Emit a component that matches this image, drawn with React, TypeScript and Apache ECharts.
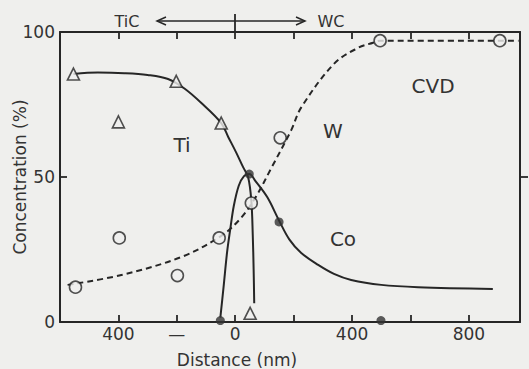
import { useEffect, useRef } from "react";
import * as echarts from "echarts";

// Axis ticks / labels
const xTicks = [-400, -200, 0, 200, 400, 600, 800];
const xTickLabels = ["400", "—", "0", "", "400", "", "800"];
const yTicks = [0, 50, 100];
const yTickLabels = ["0", "50", "100"];

// Ti (triangles) measured points and fitted curve
const tiPoints = [
  [-554, 85.5],
  [-400, 69],
  [-202, 83],
  [-48, 68.6],
  [51, 3],
];
const tiCurve = [
  [-554, 85.5],
  [-470, 86],
  [-380, 85.8],
  [-300, 85.2],
  [-230, 83.8],
  [-174, 80.5],
  [-116, 75.5],
  [-48, 68.6],
  [-24, 63.8],
  [3, 58.5],
  [27, 53.4],
  [44, 50],
  [55, 42],
  [60, 30],
  [63, 18],
  [65, 6.5],
];

// W (open circles) measured points and fitted dashed curve
const wPoints = [
  [-547, 12],
  [-397, 29],
  [-198, 16],
  [-55, 29],
  [55, 41],
  [154, 63.5],
  [496, 97],
  [906, 97],
];
const wCurve = [
  [-574, 12.8],
  [-390, 16.2],
  [-185, 22.4],
  [-48, 29.7],
  [20, 35.9],
  [72, 43.4],
  [123, 53],
  [191, 66],
  [226, 74],
  [338, 89],
  [420, 94.5],
  [472, 96.3],
  [496, 97],
  [970, 97],
];

// Co (filled circles) measured points and fitted curve
const coPoints = [
  [-51, 0.5],
  [48, 51],
  [150, 34.5],
  [499, 0.5],
];
const coCurve = [
  [-51, 1.5],
  [-40, 12],
  [-28, 24],
  [-17, 32],
  [-5, 40],
  [12, 47],
  [30, 50.3],
  [48, 51],
  [70, 48.5],
  [110, 43],
  [150, 35],
  [185, 28.5],
  [226, 23.8],
  [284, 19.7],
  [338, 16.6],
  [397, 14.5],
  [500, 12.8],
  [626, 12],
  [882, 11.4],
];

const BG = "#efefed";
const INK = "#262626";
const FONT = "DejaVu Sans";

export default function App() {
  const ref = useRef<HTMLDivElement>(null);

  useEffect(() => {
    if (!ref.current) return;
    const chart = echarts.init(ref.current, undefined, { renderer: "svg" });
    const labelMap: Record<number, string> = {};
    xTicks.forEach((v, i) => (labelMap[v] = xTickLabels[i]));
    const yLabelMap: Record<number, string> = {};
    yTicks.forEach((v, i) => (yLabelMap[v] = yTickLabels[i]));

    const hollow = (symbol: string, size: number) => ({
      symbol,
      symbolSize: size,
      itemStyle: { color: BG, borderColor: INK, borderWidth: 1.6 },
    });
    const frameLine = { show: true, onZero: false, lineStyle: { color: INK, width: 2 } };
    const tickStyle = { color: INK, width: 1.8 };
    const txt = (text: string, x: number, y: number, size: number) => ({
      type: "text",
      x,
      y,
      style: {
        text,
        fontSize: size,
        fill: "#333",
        fontFamily: FONT,
        align: "center",
        verticalAlign: "middle",
      },
    });

    chart.setOption({
      animation: false,
      backgroundColor: BG,
      textStyle: { fontFamily: FONT },
      grid: { left: 60, right: 9, top: 32, bottom: 47 },
      xAxis: [
        {
          type: "value",
          position: "bottom",
          min: -600,
          max: 975,
          axisLine: frameLine,
          axisTick: { show: true, inside: true, length: 7, customValues: xTicks, lineStyle: tickStyle },
          axisLabel: {
            customValues: xTicks,
            formatter: (v: number) => labelMap[v] ?? "",
            fontSize: 17,
            color: "#333",
            margin: 3,
            fontFamily: FONT,
          },
          splitLine: { show: false },
        },
        {
          type: "value",
          position: "top",
          min: -600,
          max: 975,
          axisLine: frameLine,
          axisTick: { show: true, inside: true, length: 7, customValues: xTicks, lineStyle: tickStyle },
          axisLabel: { show: false },
          splitLine: { show: false },
        },
        {
          type: "value",
          position: "top",
          min: -600,
          max: 975,
          axisLine: { show: false, onZero: false },
          axisTick: { show: true, inside: false, length: 18, customValues: [0], lineStyle: tickStyle },
          axisLabel: { show: false },
          splitLine: { show: false },
        },
      ],
      yAxis: [
        {
          type: "value",
          position: "left",
          min: 0,
          max: 100,
          interval: 50,
          axisLine: frameLine,
          axisTick: { show: true, inside: true, length: 7, customValues: [50], lineStyle: tickStyle },
          axisLabel: {
            formatter: (v: number) => yLabelMap[v] ?? "",
            fontSize: 17,
            color: "#333",
            margin: 5,
            fontFamily: FONT,
          },
          splitLine: { show: false },
        },
        {
          type: "value",
          position: "right",
          min: 0,
          max: 100,
          interval: 50,
          axisLine: frameLine,
          axisTick: { show: true, inside: false, length: 8, customValues: [50], lineStyle: tickStyle },
          axisLabel: { show: false },
          splitLine: { show: false },
        },
      ],
      series: [
        { type: "line", name: "Ti curve", data: tiCurve, smooth: 0.35, showSymbol: false, lineStyle: { color: INK, width: 2 }, z: 2 },
        { type: "line", name: "W curve", data: wCurve, smooth: 0.35, showSymbol: false, lineStyle: { color: INK, width: 2, type: [6, 4] }, z: 2 },
        { type: "line", name: "Co curve", data: coCurve, smooth: 0.35, showSymbol: false, lineStyle: { color: INK, width: 2 }, z: 2 },
        { type: "scatter", name: "Ti", data: tiPoints, ...hollow("triangle", 12), z: 3 },
        { type: "scatter", name: "W", data: wPoints, ...hollow("circle", 12), z: 3 },
        { type: "scatter", name: "Co", data: coPoints, symbol: "circle", symbolSize: 9, itemStyle: { color: "#333" }, z: 4 },
      ],
      graphic: [
        { ...txt("Concentration (%)", 20, 177, 17), rotation: Math.PI / 2 },
        txt("Distance (nm)", 237, 360, 17),
        txt("TiC", 127, 21, 16),
        txt("WC", 331, 21, 16),
        { type: "line", shape: { x1: 157, y1: 21, x2: 305, y2: 21 }, style: { stroke: INK, lineWidth: 1.5 } },
        { type: "polyline", shape: { points: [[166, 17], [157, 21], [166, 25]] }, style: { stroke: INK, lineWidth: 1.5, fill: null } },
        { type: "polyline", shape: { points: [[296, 17], [305, 21], [296, 25]] }, style: { stroke: INK, lineWidth: 1.5, fill: null } },
        txt("Ti", 182, 145, 20),
        txt("W", 333, 131, 20),
        txt("Co", 343, 239, 20),
        txt("CVD", 433, 86, 20),
      ],
    });
    return () => chart.dispose();
  }, []);

  return <div ref={ref} style={{ position: "fixed", left: 0, top: 0, width: 529, height: 369 }} />;
}
